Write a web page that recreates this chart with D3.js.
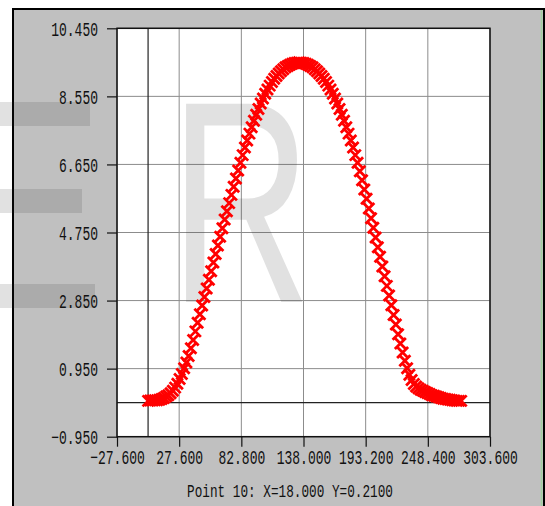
<!DOCTYPE html>
<html><head><meta charset="utf-8">
<script src="https://cdn.jsdelivr.net/npm/d3@7"></script>
<style>html,body{margin:0;padding:0;background:#fff;}svg{display:block;}</style>
</head><body>
<svg id="chart" width="545" height="506"></svg>
<script>
const xTicks = [-27.6, 27.6, 82.8, 138.0, 193.2, 248.4, 303.6];
const yTicks = [-0.95, 0.95, 2.85, 4.75, 6.65, 8.55, 10.45];
const xValues = [0,2,4,6,8,10,12,14,16,18,20,22,24,26,28,30,32,34,36,38,40,42,44,46,48,50,52,54,56,58,60,62,64,66,68,70,72,74,76,78,80,82,84,86,88,90,92,94,96,98,100,102,104,106,108,110,112,114,116,118,120,122,124,126,128,130,132,134,136,138,140,142,144,146,148,150,152,154,156,158,160,162,164,166,168,170,172,174,176,178,180,182,184,186,188,190,192,194,196,198,200,202,204,206,208,210,212,214,216,218,220,222,224,226,228,230,232,234,236,238,240,242,244,246,248,250,252,254,256,258,260,262,264,266,268,270,272,274,276,278];
const yValues = [0.05,0.06,0.06,0.07,0.07,0.08,0.10,0.13,0.17,0.21,0.26,0.33,0.42,0.53,0.66,0.80,0.96,1.12,1.30,1.52,1.75,1.99,2.23,2.47,2.71,2.95,3.19,3.43,3.67,3.91,4.15,4.39,4.63,4.87,5.11,5.34,5.57,5.80,6.03,6.26,6.48,6.70,6.91,7.12,7.32,7.51,7.69,7.87,8.04,8.20,8.35,8.49,8.62,8.74,8.85,8.95,9.04,9.12,9.19,9.25,9.31,9.36,9.40,9.43,9.46,9.48,9.49,9.50,9.49,9.48,9.46,9.43,9.40,9.36,9.31,9.25,9.19,9.12,9.04,8.95,8.85,8.74,8.62,8.49,8.35,8.20,8.04,7.87,7.69,7.51,7.32,7.12,6.91,6.70,6.46,6.21,5.95,5.69,5.42,5.15,4.88,4.61,4.34,4.07,3.80,3.53,3.26,2.99,2.72,2.45,2.18,1.91,1.65,1.40,1.17,0.96,0.78,0.63,0.52,0.45,0.40,0.36,0.33,0.30,0.27,0.24,0.21,0.19,0.17,0.15,0.13,0.11,0.10,0.09,0.08,0.07,0.06,0.05,0.05,0.05];
const statusText = "Point 10: X=18.000 Y=0.2100";

const svg = d3.select("#chart");
const L = 117, R = 490, T = 28.3, B = 436.7;
const x = d3.scaleLinear().domain([xTicks[0], xTicks[xTicks.length-1]]).range([L, R]);
const y = d3.scaleLinear().domain([yTicks[0], yTicks[yTicks.length-1]]).range([B, T]);

// panel
svg.append("rect").attr("x", 12).attr("y", 8).attr("width", 533).attr("height", 498).attr("fill", "#c0c0c0");
svg.append("line").attr("x1", 13).attr("x2", 13).attr("y1", 8).attr("y2", 506).attr("stroke", "#000").attr("stroke-width", 2);
svg.append("line").attr("x1", 12).attr("x2", 545).attr("y1", 9).attr("y2", 9).attr("stroke", "#000").attr("stroke-width", 2);
svg.append("line").attr("x1", 541.5).attr("x2", 541.5).attr("y1", 10).attr("y2", 506).attr("stroke", "#9fcf9f").attr("stroke-width", 1.5);
svg.append("line").attr("x1", 544).attr("x2", 544).attr("y1", 8).attr("y2", 506).attr("stroke", "#000").attr("stroke-width", 2);

// plot background
svg.append("rect").attr("x", L).attr("y", T).attr("width", R - L).attr("height", B - T).attr("fill", "#fff");

// grid
const g = svg.append("g");
g.selectAll(".vg").data(xTicks).join("line")
  .attr("x1", d => x(d)).attr("x2", d => x(d)).attr("y1", T).attr("y2", B)
  .attr("stroke", "#8c8c8c").attr("stroke-width", 1);
g.selectAll(".hg").data(yTicks).join("line")
  .attr("x1", L).attr("x2", R).attr("y1", d => y(d)).attr("y2", d => y(d))
  .attr("stroke", "#8c8c8c").attr("stroke-width", 1);

// zero axes
svg.append("line").attr("x1", x(0)).attr("x2", x(0)).attr("y1", T).attr("y2", B).attr("stroke", "#222").attr("stroke-width", 1.2);
svg.append("line").attr("x1", L).attr("x2", R).attr("y1", y(0)).attr("y2", y(0)).attr("stroke", "#222").attr("stroke-width", 1.2);

// watermark (E arms + R)
const wm = "rgba(40,40,40,0.14)";
svg.append("rect").attr("x", 0).attr("y", 102).attr("width", 90).attr("height", 24).attr("fill", wm);
svg.append("rect").attr("x", 0).attr("y", 189).attr("width", 82).attr("height", 24).attr("fill", wm);
svg.append("rect").attr("x", 0).attr("y", 284).attr("width", 95).attr("height", 24).attr("fill", wm);
svg.append("text").attr("transform", "translate(170,302) scale(0.68,1)")
  .attr("font-family", "Liberation Sans, Arial, sans-serif")
  .attr("font-size", 288).attr("fill", wm).text("R");

// axes
const sx = 0.65;
const xAxis = d3.axisBottom(x).tickValues(xTicks).tickSize(10).tickFormat(d3.format(".3f"));
const yAxis = d3.axisLeft(y).tickValues(yTicks).tickSize(10).tickFormat(d3.format(".3f"));
const gx = svg.append("g").attr("transform", `translate(0,${B})`).call(xAxis);
const gy = svg.append("g").attr("transform", `translate(${L},0)`).call(yAxis);
[gx, gy].forEach(a => {
  a.select(".domain").remove();
  a.selectAll(".tick line").attr("stroke", "#111").attr("stroke-width", 1.2);
  a.selectAll(".tick text").attr("fill", "#111")
    .attr("font-family", "Liberation Mono, DejaVu Sans Mono, monospace").attr("font-size", 20)
    .attr("transform", `scale(${sx},1)`);
});
gx.selectAll(".tick text").attr("dy", null).attr("y", 27).attr("x", 0).attr("text-anchor", "middle");
gy.selectAll(".tick text").attr("x", -19 / sx).attr("dy", "0.36em");

// markers
const s = 5.5;
const pts = xValues.map((v, i) => [x(v), y(yValues[i])]);
svg.append("g").selectAll("path").data(pts).join("path")
  .attr("d", d => `M${d[0]-s},${d[1]-s}L${d[0]+s},${d[1]+s}M${d[0]-s},${d[1]+s}L${d[0]+s},${d[1]-s}`)
  .attr("stroke", "#f00").attr("stroke-width", 2.8).attr("fill", "none");

// plot frame
svg.append("rect").attr("x", L).attr("y", T).attr("width", R - L).attr("height", B - T)
  .attr("fill", "none").attr("stroke", "#111").attr("stroke-width", 1.5);

// status text
const st = 0.706;
svg.append("text").attr("transform", `translate(290,497) scale(${st},1)`).attr("text-anchor", "middle")
  .attr("font-family", "Liberation Mono, DejaVu Sans Mono, monospace").attr("font-size", 18)
  .attr("fill", "#111").text(statusText);
</script>
</body></html>
